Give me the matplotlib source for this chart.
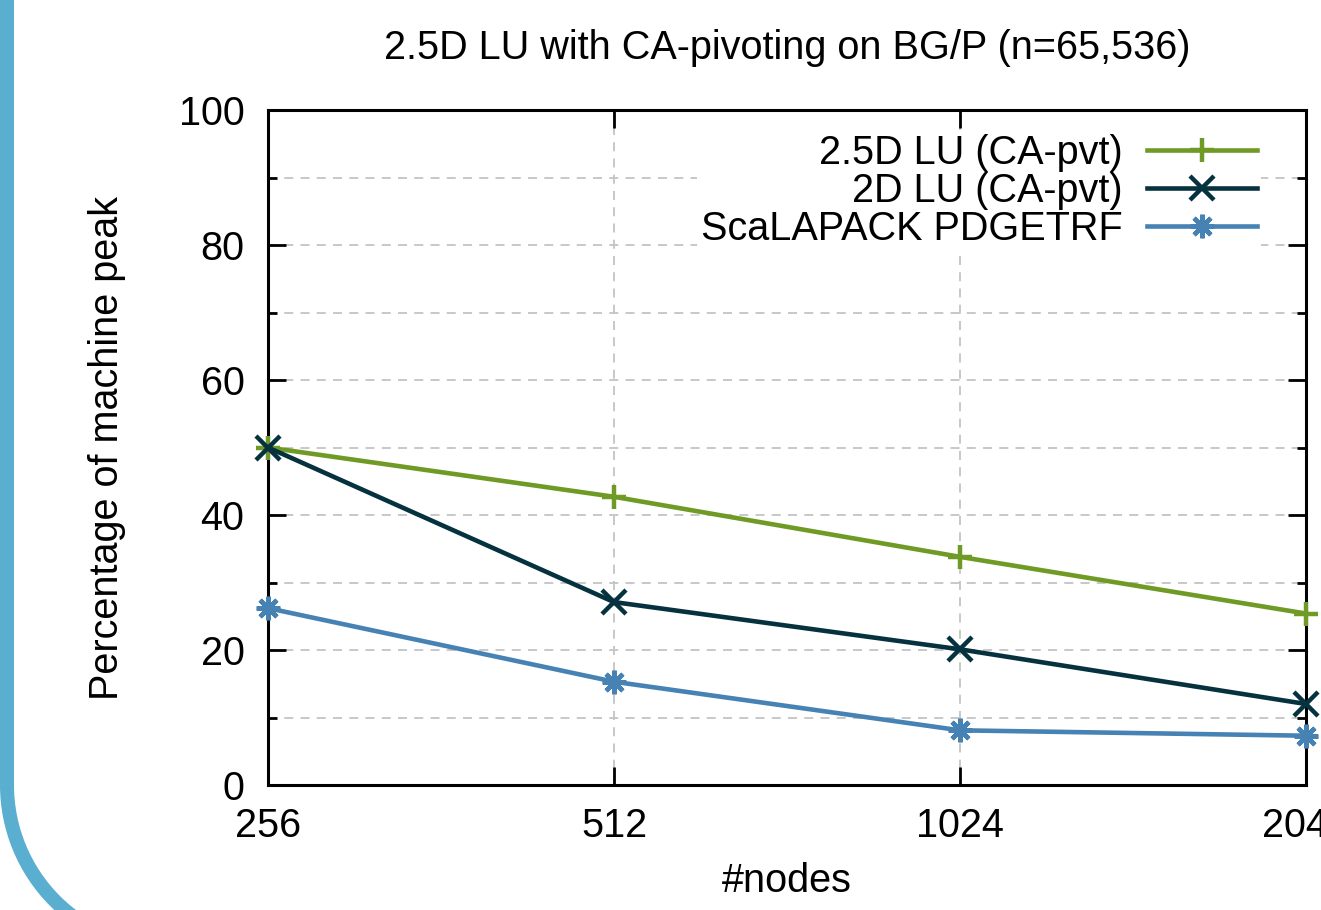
import matplotlib
matplotlib.use("Agg")
import matplotlib.pyplot as plt
from matplotlib.patches import Arc
from matplotlib.lines import Line2D
from matplotlib.ticker import MultipleLocator, NullLocator

plt.rcParams["font.family"] = ["Liberation Sans", "DejaVu Sans"]

nodes = [256, 512, 1024, 2048]
lu25d = [50.0, 42.7, 33.8, 25.4]
lu2d = [50.0, 27.1, 20.1, 12.0]
scalapack = [26.2, 15.3, 8.1, 7.3]

labels = ["2.5D LU (CA-pvt)", "2D LU (CA-pvt)", "ScaLAPACK PDGETRF"]
colors = ["#6f9a25", "#06323f", "#4682b4"]
markers = ["+", "x", (8, 2, 0)]

FS = 28.5
W, H = 1321, 910
fig = plt.figure(figsize=(W / 100, H / 100), dpi=100)
ax = fig.add_axes([268 / W, 1 - 785 / H, (1306 - 268) / W, (785 - 110) / H])

for y, lab, c, m in zip([lu25d, lu2d, scalapack], labels, colors, markers):
    ax.plot(nodes, y, color=c, lw=3.3, marker=m, ms=17, mew=3.2, label=lab,
            clip_on=False, zorder=3)

ax.set_xscale("log", base=2)
ax.set_xlim(256, 2048)
ax.set_ylim(0, 100)
ax.set_xticks(nodes)
ax.set_xticklabels([str(n) for n in nodes])
ax.xaxis.set_minor_locator(NullLocator())
ax.yaxis.set_major_locator(MultipleLocator(20))
ax.yaxis.set_minor_locator(MultipleLocator(10))

ax.grid(True, which="both", axis="y", color="#c4c4c4", ls=(0, (5, 4)), lw=1.3)
ax.grid(True, which="major", axis="x", color="#c4c4c4", ls=(0, (5, 4)), lw=1.3)
ax.set_axisbelow(True)

ax.tick_params(which="both", direction="in", top=True, right=True, width=2,
               labelsize=FS)
ax.tick_params(which="major", length=13)
ax.tick_params(which="minor", length=6.5)
ax.tick_params(axis="y", pad=17)
ax.tick_params(axis="x", pad=16)
for s in ax.spines.values():
    s.set_linewidth(2.2)

ax.set_xlabel("#nodes", fontsize=FS, labelpad=12)
ax.set_ylabel("Percentage of machine peak", fontsize=FS, labelpad=38)
fig.text(787 / W, 1 - 48 / H, "2.5D LU with CA-pivoting on BG/P (n=65,536)",
         ha="center", va="center", fontsize=FS)

leg = ax.legend(loc="upper right", bbox_to_anchor=(0.976, 1.0), frameon=True,
                fontsize=FS, markerfirst=False, handlelength=2.8,
                labelspacing=0.0, borderpad=0.1, handletextpad=0.6)
leg.get_frame().set_edgecolor("none")
leg.get_frame().set_facecolor("white")
leg.get_frame().set_alpha(1)

# slide decoration on the left edge
blue = "#5aafd0"
fig.add_artist(Line2D([7, 7], [H, H - 785], color=blue, lw=14 * 0.72,
                      transform=None, solid_capstyle="butt"))
R = 164
fig.add_artist(Arc((7 + R, H - 785), 2 * R, 2 * R, theta1=180, theta2=270,
                   color=blue, lw=14 * 0.72, transform=None))

fig.savefig("out.png", dpi=100)
